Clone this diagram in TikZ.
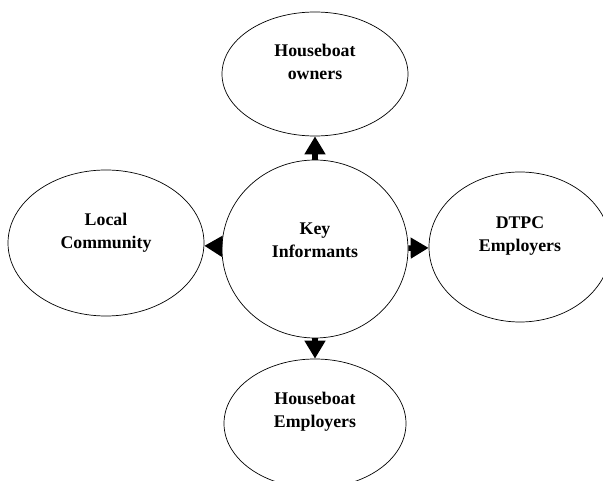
\documentclass[tikz,border=0pt]{standalone}
\usepackage{fontspec}
\setmainfont{Liberation Serif}
\usetikzlibrary{shapes.geometric,arrows.meta}
\tikzset{
  bubble/.style={draw=black, line width=0.7pt, ellipse, inner sep=0pt},
  lbl/.style={align=center, font=\fontsize{17.8}{23}\selectfont\bfseries, inner sep=0pt},
  arr/.style={line width=5.5pt, -{Triangle[length=18pt,width=20pt]}}
}
\begin{document}
\begin{tikzpicture}[x=1pt,y=-1pt]
\useasboundingbox (0,0) rectangle (603,481);
\clip (0,0) rectangle (603,481);
\fill[white] (0,0) rectangle (603,481);
\node[bubble, minimum width=186pt, minimum height=178pt] (kc) at (315,249) {};
\node[bubble, minimum width=186pt, minimum height=124pt] (ho) at (315,74) {};
\node[bubble, minimum width=196pt, minimum height=146pt] (lc) at (106,243) {};
\node[bubble, minimum width=182pt, minimum height=150pt] (de) at (520,247) {};
\node[bubble, minimum width=182pt, minimum height=129pt] (he) at (315,423.5) {};
\node[lbl] (tkc) at (315,240.7) {Key\\Informants};
\node[lbl] (tho) at (315,62.4) {Houseboat\\owners};
\node[lbl] (tlc) at (106,233) {Local\\Community};
\node[lbl] (tde) at (520,236) {DTPC\\Employers};
\node[lbl] (the) at (315,411.5) {Houseboat\\Employers};
\draw[arr] (kc) -- (ho);
\draw[arr] (kc) -- (lc);
\draw[arr] (kc) -- (de);
\draw[arr] (kc) -- (he);
\end{tikzpicture}
\end{document}
